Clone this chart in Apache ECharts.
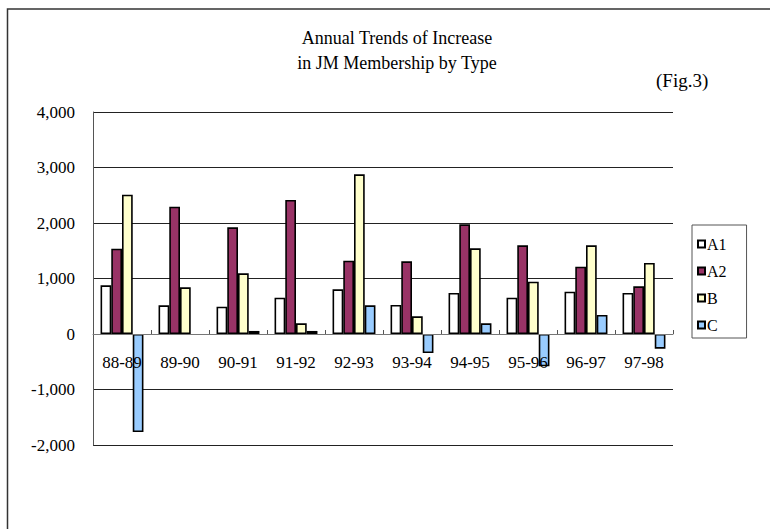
<!DOCTYPE html>
<html>
<head>
<meta charset="utf-8">
<script src="https://cdn.jsdelivr.net/npm/echarts@6/dist/echarts.min.js"></script>
<style>
html,body{margin:0;padding:0;background:#fff;}
#chart{width:770px;height:529px;}
</style>
</head>
<body>
<div id="chart"></div>
<script>
var categories = ['88-89','89-90','90-91','91-92','92-93','93-94','94-95','95-96','96-97','97-98'];
var seriesNames = ['A1','A2','B','C'];
var valuesA1 = [877, 517, 492, 655, 805, 523, 739, 655, 763, 739];
var valuesA2 = [1538, 2294, 1922, 2414, 1321, 1309, 1976, 1598, 1213, 859];
var valuesB  = [2511, 841, 1093, 192, 2877, 318, 1544, 943, 1598, 1279];
var valuesC  = [-1766, null, 55, 55, 517, -342, 192, -583, 342, -264];
var yTicks = { min: -2000, max: 4000, interval: 1000 };
var titleLines = ['Annual Trends of Increase', 'in JM Membership by Type'];
var figLabel = '(Fig.3)';

var colors = ['#ffffff', '#993366', '#ffffcc', '#99ccff'];
var serif = 'Liberation Serif, serif';
var allValues = [valuesA1, valuesA2, valuesB, valuesC];

var gridTop = 112, gridBottom = 84, H = 529;
var plotH = H - gridTop - gridBottom;
var zeroOffset = plotH * (0 - yTicks.min) / (yTicks.max - yTicks.min);

var chart = echarts.init(document.getElementById('chart'), null, {renderer: 'svg'});
chart.setOption({
  animation: false,
  backgroundColor: '#fff',
  title: [{
    text: titleLines.join('\n'),
    left: 392, top: 20, textAlign: 'center',
    textStyle: {fontFamily: serif, fontSize: 18, fontWeight: 'normal', color: '#000', lineHeight: 25}
  }, {
    text: figLabel,
    left: 651, top: 66,
    textStyle: {fontFamily: serif, fontSize: 19, fontWeight: 'normal', color: '#000'}
  }],
  graphic: [{
    type: 'rect', silent: true,
    shape: {x: 7.5, y: 9, width: 900, height: 900},
    style: {fill: 'none', stroke: '#333', lineWidth: 1.5}
  }],
  legend: {
    orient: 'vertical',
    left: 692, top: 225,
    itemWidth: 7, itemHeight: 7, itemGap: 11,
    padding: [11, 20, 5, 5],
    borderColor: '#555', borderWidth: 1,
    icon: 'rect',
    textStyle: {fontFamily: serif, fontSize: 16, color: '#000', padding: [0, 0, 0, -3]},
    data: seriesNames
  },
  grid: {left: 93, right: 97, top: gridTop, bottom: gridBottom, containLabel: false},
  xAxis: {
    type: 'category', data: categories,
    offset: -zeroOffset,
    z: 5,
    axisLine: {onZero: false, lineStyle: {color: '#777', width: 1}},
    axisTick: {show: true, inside: true, length: 4, lineStyle: {color: '#555'}},
    axisLabel: {fontFamily: serif, fontSize: 17, color: '#000', margin: 20},
    splitLine: {show: false}
  },
  yAxis: {
    type: 'value', min: yTicks.min, max: yTicks.max, interval: yTicks.interval,
    axisLine: {show: true, lineStyle: {color: '#555', width: 1}},
    axisTick: {show: false},
    axisLabel: {fontFamily: serif, fontSize: 17, color: '#000', margin: 18,
      formatter: function (v) { return v.toLocaleString('en-US'); }},
    splitLine: {show: true, lineStyle: {color: '#222', width: 1}}
  },
  series: seriesNames.map(function (name, i) {
    return {
      name: name, type: 'bar', data: allValues[i],
      barGap: '0%', barCategoryGap: '26%',
      itemStyle: {color: colors[i], borderColor: '#000', borderWidth: 1.6}
    };
  })
});
</script>
</body>
</html>
